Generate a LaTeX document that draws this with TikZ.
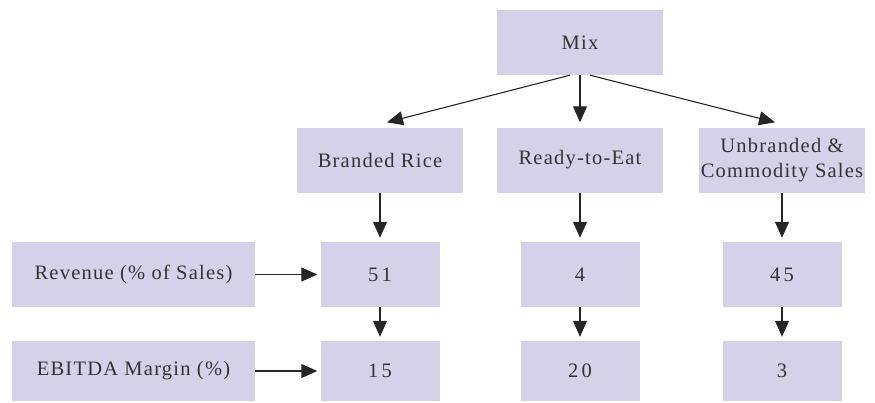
\documentclass[tikz,border=0pt]{standalone}
\usepackage{fontspec}
\setmainfont{Liberation Serif}[LetterSpace=6]
\usetikzlibrary{arrows.meta, positioning}
\definecolor{boxfill}{HTML}{D5D1E8}
\definecolor{inkgrey}{HTML}{333333}

\tikzset{
  box/.style={fill=boxfill, text=inkgrey, inner sep=0pt, align=center,
    font=\fontsize{20.5}{25}\selectfont},
  segbox/.style={box, minimum width=166pt, minimum height=65pt},
  valbox/.style={box, minimum width=119pt, minimum height=65pt},
  lblbox/.style={box, minimum width=243pt, minimum height=65pt},
  link/.style={draw=black!85, line width=1.1pt,
    -{Triangle[length=16pt, width=14pt]}}
}

\begin{document}
\begin{tikzpicture}[x=1pt, y=-1pt]
  \useasboundingbox (0,0) rectangle (875,402);

  % top and segment row
  \node[segbox] (mix)  at (580,42.5) {Mix};
  \node[segbox] (rice) at (380,160) {Branded Rice};
  \node[segbox] (rte)  at (580,160) {Ready-to-Eat};
  \node[segbox] (unbr) at (782,160) {Unbranded \&\\Commodity Sales};

  % revenue row
  \node[lblbox] (revlbl) at (133.5,274.5) {Revenue (\% of Sales)};
  \node[valbox] (rev1) at (380,274.5) {5\,1};
  \node[valbox] (rev2) at (580,274.5) {4};
  \node[valbox] (rev3) at (782,274.5) {4\,5};

  % margin row
  \node[lblbox, minimum height=60pt] (eblbl) at (133.5,371) {EBITDA Margin (\%)};
  \node[valbox, minimum height=60pt] (eb1) at (380,371) {1\,5};
  \node[valbox, minimum height=60pt] (eb2) at (580,371) {2\,0};
  \node[valbox, minimum height=60pt] (eb3) at (782,371) {3};

  % connectors
  \draw[link] ([xshift=-10pt]mix.south) -- ([xshift=7pt, yshift=5pt]rice.north);
  \draw[link] (mix.south) -- ([yshift=5pt]rte.north);
  \draw[link] ([xshift=10pt]mix.south) -- ([xshift=-7pt, yshift=5pt]unbr.north);

  \foreach \a/\b in {rice/rev1, rte/rev2, unbr/rev3, rev1/eb1, rev2/eb2, rev3/eb3}
    \draw[link] (\a.south) -- ([yshift=4pt]\b.north);

  \draw[link] (revlbl.east) -- ([xshift=-3pt]rev1.west);
  \draw[link] (eblbl.east) -- ([xshift=-3pt]eb1.west);
\end{tikzpicture}
\end{document}
